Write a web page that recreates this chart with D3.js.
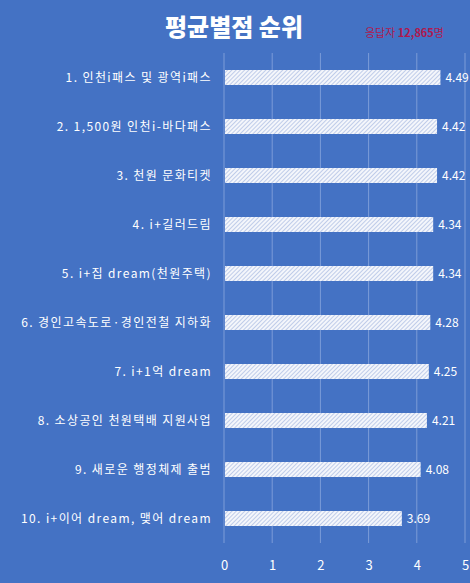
<!DOCTYPE html>
<html>
<head>
<meta charset="utf-8">
<script src="https://cdn.jsdelivr.net/npm/d3@7"></script>
<style>
  body { margin: 0; background: #4472c4; }
  svg { display: block; }
</style>
</head>
<body>
<div id="chart"></div>
<script>
// data
var categories = [
  '1. 인천i패스 및 광역i패스',
  '2. 1,500원 인천i-바다패스',
  '3. 천원 문화티켓',
  '4. i+길러드림',
  '5. i+집 dream(천원주택)',
  '6. 경인고속도로·경인전철 지하화',
  '7. i+1억 dream',
  '8. 소상공인 천원택배 지원사업',
  '9. 새로운 행정체제 출범',
  '10. i+이어 dream, 맺어 dream'
]
var scores = [4.49, 4.42, 4.42, 4.34, 4.34, 4.28, 4.25, 4.21, 4.08, 3.69]
var ticks = [0, 1, 2, 3, 4, 5]

var width = 470, height = 583
var krFont = '"Noto Sans CJK KR", "Noto Sans", sans-serif'

var svg = d3.select('#chart').append('svg')
    .attr('width', width)
    .attr('height', height)

svg.append('rect').attr('width', width).attr('height', height).attr('fill', '#4472c4')

// hatch for the bars
var pat = svg.append('defs').append('pattern')
    .attr('id', 'hatch')
    .attr('patternUnits', 'userSpaceOnUse')
    .attr('width', 3).attr('height', 3)
    .attr('patternTransform', 'rotate(45)')
pat.append('rect').attr('width', 3).attr('height', 3).attr('fill', '#f4f6fb')
pat.append('line').attr('x1', 0).attr('y1', 0).attr('x2', 0).attr('y2', 3)
    .attr('stroke', '#8aa3d8').attr('stroke-width', 1)

var x = d3.scaleLinear().domain([0, 5]).range([224, 465])
var y = d3.scaleBand().domain(categories).range([53, 543])

// gridlines
svg.append('g').selectAll('line')
    .data(ticks)
    .join('line')
    .attr('x1', function (d) { return x(d) }).attr('x2', function (d) { return x(d) })
    .attr('y1', 53).attr('y2', 543)
    .attr('stroke', '#7c9cd8').attr('stroke-width', 1)

// x axis labels
var xAxis = svg.append('g')
    .attr('transform', 'translate(0,558)')
    .call(d3.axisBottom(x).tickValues(ticks).tickFormat(d3.format('d')).tickSize(0))
xAxis.select('.domain').remove()
xAxis.selectAll('text')
    .attr('fill', '#ffffff')
    .attr('font-family', krFont)
    .attr('font-size', 13)

// bars
var barH = 15
svg.append('g').selectAll('rect')
    .data(scores)
    .join('rect')
    .attr('x', x(0) + 1)
    .attr('y', function (d, i) { return y(categories[i]) + y.bandwidth() / 2 - barH / 2 })
    .attr('width', function (d) { return x(d) - x(0) - 1 })
    .attr('height', barH)
    .attr('fill', 'url(#hatch)')

// value labels
svg.append('g').selectAll('text')
    .data(scores)
    .join('text')
    .attr('x', function (d) { return x(d) + 5 })
    .attr('y', function (d, i) { return y(categories[i]) + y.bandwidth() / 2 })
    .attr('dy', '0.35em')
    .attr('fill', '#ffffff')
    .attr('font-family', krFont)
    .attr('font-size', 12)
    .text(function (d) { return d3.format('.2f')(d) })

// category labels
svg.append('g').selectAll('text')
    .data(categories)
    .join('text')
    .attr('x', 212)
    .attr('y', function (d) { return y(d) + y.bandwidth() / 2 })
    .attr('dy', '0.35em')
    .attr('text-anchor', 'end')
    .attr('fill', '#ffffff')
    .attr('font-family', krFont)
    .attr('font-size', 12)
    .attr('letter-spacing', 1.4)
    .text(function (d) { return d })

// title
svg.append('text')
    .attr('x', 234).attr('y', 36)
    .attr('text-anchor', 'middle')
    .attr('fill', '#ffffff')
    .attr('font-family', krFont)
    .attr('font-weight', 900)
    .attr('font-size', 24)
    .text('평균별점 순위')

var resp = svg.append('text')
    .attr('x', 365).attr('y', 37)
    .attr('fill', '#b0184e')
    .attr('font-family', krFont)
    .attr('font-size', 11)
resp.append('tspan').text('응답자 ')
resp.append('tspan').attr('font-weight', 'bold').text('12,865')
resp.append('tspan').text('명')
</script>
</body>
</html>
